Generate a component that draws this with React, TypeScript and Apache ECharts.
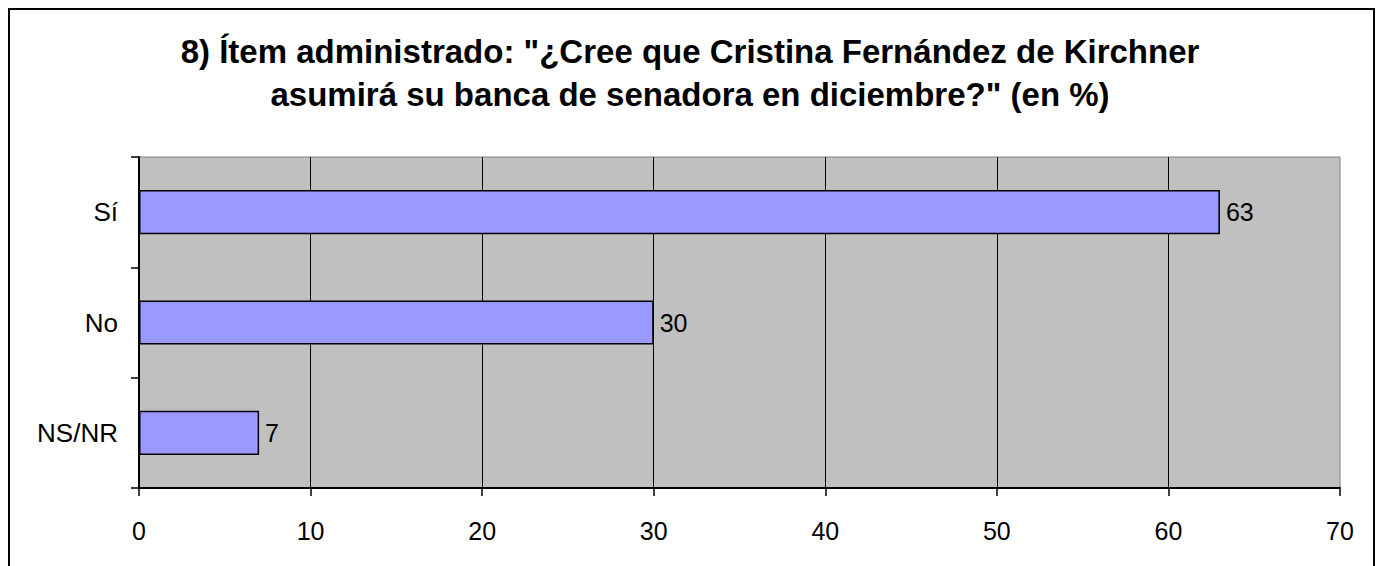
import React, { useEffect, useRef } from "react";
import * as echarts from "echarts";

const categories = ["Sí", "No", "NS/NR"];
const values = [63, 30, 7];
const titleLine1 = '8) Ítem administrado: "¿Cree que Cristina Fernández de Kirchner';
const titleLine2 = 'asumirá su banca de senadora en diciembre?" (en %)';

export default function App() {
  const ref = useRef<HTMLDivElement>(null);
  useEffect(() => {
    if (!ref.current) return;
    const chart = echarts.init(ref.current, null, { renderer: "svg" });
    const titleFont = {
      fontSize: 33,
      fontWeight: "bold",
      fill: "#000",
      fontFamily: "Liberation Sans, Arial, sans-serif",
      align: "center",
      verticalAlign: "middle",
    };
    chart.setOption({
      animation: false,
      textStyle: { fontFamily: "Liberation Sans, Arial, sans-serif" },
      graphic: [
        { type: "text", x: 680, y: 41, style: { text: titleLine1, ...titleFont } },
        { type: "text", x: 680, y: 84, style: { text: titleLine2, ...titleFont } },
      ],
      grid: {
        left: 129,
        right: 33,
        top: 147,
        bottom: 78,
        show: true,
        backgroundColor: "#C0C0C0",
        borderColor: "#808080",
        borderWidth: 1,
      },
      xAxis: {
        type: "value",
        min: 0,
        max: 70,
        interval: 10,
        axisLine: { show: true, lineStyle: { color: "#000", width: 2 } },
        axisTick: { show: true, length: 8, lineStyle: { color: "#000", width: 1.5 } },
        axisLabel: { color: "#000", fontSize: 25, margin: 30 },
        splitLine: { show: true, showMaxLine: false, lineStyle: { color: "#000", width: 1 } },
      },
      yAxis: {
        type: "category",
        data: categories,
        inverse: true,
        axisLine: { show: true, lineStyle: { color: "#000", width: 2 } },
        axisTick: { show: true, length: 8, lineStyle: { color: "#000", width: 1.5 } },
        axisLabel: { color: "#000", fontSize: 26, margin: 21 },
      },
      series: [
        {
          type: "bar",
          data: values,
          barWidth: "40%",
          itemStyle: { color: "#9999FF", borderColor: "#000", borderWidth: 1.5 },
          label: {
            show: true,
            position: "right",
            distance: 6,
            color: "#000",
            fontSize: 25,
          },
        },
      ],
    });
    return () => chart.dispose();
  }, []);
  return (
    <div
      style={{
        width: 1367,
        height: 560,
        border: "2px solid #000",
        boxSizing: "border-box",
        background: "#fff",
      }}
    >
      <div ref={ref} style={{ width: 1363, height: 556 }} />
    </div>
  );
}
